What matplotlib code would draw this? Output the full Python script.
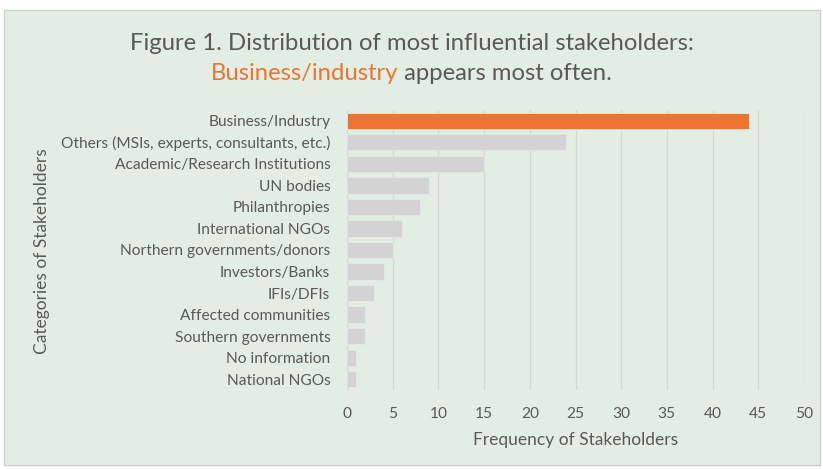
import matplotlib.pyplot as plt
from matplotlib.patches import Rectangle

# stakeholder categories, most frequent first
categories = [
    "Business/Industry",
    "Others (MSIs, experts, consultants, etc.)",
    "Academic/Research Institutions",
    "UN bodies",
    "Philanthropies",
    "International NGOs",
    "Northern governments/donors",
    "Investors/Banks",
    "IFIs/DFIs",
    "Affected communities",
    "Southern governments",
    "No information",
    "National NGOs",
]
counts = [44, 24, 15, 9, 8, 6, 5, 4, 3, 2, 2, 1, 1]
xticks = list(range(0, 51, 5))

TEXT = "#595959"
ORANGE = "#ED7430"
GREY_BAR = "#D3D3D3"
PANEL = "#E2EEE3"

plt.rcParams["font.family"] = ["Lato", "DejaVu Sans"]

fig = plt.figure(figsize=(8.23, 4.69), dpi=100)
fig.patch.set_facecolor("white")
fig.patches.append(Rectangle((4 / 823, 4 / 469), 816 / 823, 455 / 469,
                             transform=fig.transFigure, facecolor=PANEL,
                             edgecolor="#D0D0D0", linewidth=1, zorder=-10))

ax = fig.add_axes([347 / 823, 1 - 390 / 469, 457 / 823, 280 / 469])
ax.set_facecolor("none")

colors = [ORANGE] + [GREY_BAR] * (len(counts) - 1)
ypos = list(range(len(categories)))
ax.barh(ypos, counts, height=0.76, color=colors, edgecolor="#E6E6E6",
        linewidth=0.6, zorder=3)

ax.set_ylim(len(categories) - 0.5, -0.5)
ax.set_xlim(0, 50)
ax.set_yticks(ypos)
ax.set_yticklabels(categories)
ax.set_xticks(xticks)
ax.tick_params(axis="y", length=0, pad=12, labelsize=11.2, labelcolor=TEXT)
ax.tick_params(axis="x", length=0, pad=12, labelsize=11.2, labelcolor=TEXT)
ax.grid(axis="x", color="#D6D6D6", linewidth=0.9, zorder=0)
for s in ax.spines.values():
    s.set_visible(False)

ax.set_xlabel("Frequency of Stakeholders", fontsize=12.5, color=TEXT, labelpad=8)
fig.text(42 / 823, 1 - 251 / 469, "Categories of Stakeholders", rotation=90,
         ha="center", va="center", fontsize=12.5, color=TEXT)

# title: first line plain, second line with highlighted lead phrase
fig.text(0.5, 1 - 43 / 469, "Figure 1. Distribution of most influential stakeholders:",
         ha="center", va="center", fontsize=17.2, color=TEXT)
y2 = 1 - 74 / 469
part1 = fig.text(0, y2, "Business/industry", ha="left", va="center",
                 fontsize=17.2, color=ORANGE)
part2 = fig.text(0, y2, " appears most often.", ha="left", va="center",
                 fontsize=17.2, color=TEXT)
fig.canvas.draw()
r = fig.canvas.get_renderer()
w1 = part1.get_window_extent(r).width
w2 = part2.get_window_extent(r).width
W = fig.bbox.width
x0 = (W - (w1 + w2)) / 2
part1.set_x(x0 / W)
part2.set_x((x0 + w1) / W)

fig.savefig("out.png", dpi=100, facecolor=fig.get_facecolor())
